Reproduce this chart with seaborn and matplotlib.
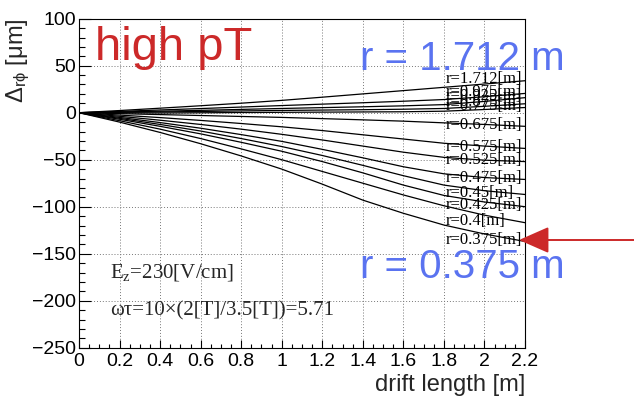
import matplotlib
matplotlib.use("Agg")
import matplotlib.pyplot as plt
from matplotlib.ticker import MultipleLocator
import pandas as pd
import seaborn as sns

# drift length sample points [m]
drift = [0.0, 0.2, 0.4, 0.6, 0.8, 1.0, 1.2, 1.4, 1.6, 1.8, 2.0, 2.2]

# r-phi distortion [um] for each radius
d_1712 = [0, 2.3, 4.8, 7.4, 10.1, 13.1, 16.5, 20.0, 23.5, 27.0, 30.5, 34.0]
d_0975 = [0, 1.4, 2.9, 4.4, 6.0, 7.6, 9.1, 10.6, 12.2, 14.0, 17.0, 20.5]
d_0925 = [0, 0.8, 1.6, 2.5, 3.5, 4.5, 5.4, 6.3, 7.3, 8.6, 12.0, 16.0]
d_0875 = [0, 0.4, 0.8, 1.3, 1.9, 2.4, 2.8, 3.2, 3.7, 4.5, 6.8, 9.5]
d_0775 = [0, -0.2, -0.3, -0.1, 0.2, 0.4, 0.6, 0.8, 1.0, 1.6, 3.4, 5.5]
d_0675 = [0, -1.0, -2.0, -3.0, -4.0, -5.0, -6.3, -7.6, -9.0, -10.8, -12.5, -14.5]
d_0575 = [0, -2.5, -5.2, -8.2, -11.5, -15.0, -19.0, -23.5, -28.0, -32.5, -35.5, -38.0]
d_0525 = [0, -3.8, -8.0, -12.5, -17.5, -23.0, -29.0, -35.5, -42.0, -47.5, -50.5, -52.0]
d_0475 = [0, -5.0, -10.5, -16.5, -23.3, -30.5, -39.0, -48.0, -57.5, -65.0, -69.0, -71.0]
d_0450 = [0, -6.0, -12.5, -19.5, -27.5, -36.0, -45.5, -56.0, -67.0, -77.0, -83.0, -87.0]
d_0425 = [0, -7.0, -14.5, -22.5, -31.5, -41.0, -52.0, -64.0, -77.0, -88.0, -95.0, -100.0]
d_0400 = [0, -8.5, -17.5, -27.5, -38.5, -50.0, -62.5, -75.0, -87.5, -99.0, -109.0, -117.0]
d_0375 = [0, -10.0, -21.0, -33.0, -46.0, -60.0, -76.0, -93.0, -107.0, -119.5, -129.0, -137.0]

radius_labels = ["r=1.712[m]", "r=0.975[m]", "r=0.925[m]", "r=0.875[m]",
                 "r=0.775[m]", "r=0.675[m]", "r=0.575[m]", "r=0.525[m]",
                 "r=0.475[m]", "r=0.45[m]", "r=0.425[m]", "r=0.4[m]",
                 "r=0.375[m]"]
curves = [d_1712, d_0975, d_0925, d_0875, d_0775, d_0675, d_0575,
          d_0525, d_0475, d_0450, d_0425, d_0400, d_0375]

x_ticks = [0, 0.2, 0.4, 0.6, 0.8, 1, 1.2, 1.4, 1.6, 1.8, 2, 2.2]
x_tick_labels = ["0", "0.2", "0.4", "0.6", "0.8", "1", "1.2", "1.4",
                 "1.6", "1.8", "2", "2.2"]
y_ticks = [-250, -200, -150, -100, -50, 0, 50, 100]

frames = []
for lab, vals in zip(radius_labels, curves):
    frames.append(pd.DataFrame({"drift": drift, "delta": vals, "r": lab}))
df = pd.concat(frames, ignore_index=True)

sns.set_style("white")
plt.rcParams["font.family"] = ["Liberation Sans", "DejaVu Sans"]
plt.rcParams["mathtext.fontset"] = "custom"
plt.rcParams["mathtext.rm"] = "Liberation Serif"
plt.rcParams["mathtext.it"] = "Liberation Serif:italic"
plt.rcParams["mathtext.sf"] = "Liberation Sans"

W, H = 634, 403
fig = plt.figure(figsize=(W / 100, H / 100), dpi=100)
ax = fig.add_axes([79 / W, 1 - 347.7 / H, (525 - 79) / W, (347.7 - 18.7) / H])

sns.lineplot(data=df, x="drift", y="delta", hue="r",
             palette=["black"] * len(radius_labels), estimator=None,
             sort=False, legend=False, lw=0.9, ax=ax)

ax.set_xlim(0, 2.2)
ax.set_ylim(-250, 100)
ax.set_xticks(x_ticks)
ax.set_xticklabels(x_tick_labels)
ax.set_yticks(y_ticks)
ax.xaxis.set_minor_locator(MultipleLocator(0.05))
ax.yaxis.set_minor_locator(MultipleLocator(10))
ax.tick_params(axis="both", which="both", direction="in", bottom=True,
               left=True, top=False, right=False, labelsize=14,
               colors="black", width=0.8)
ax.tick_params(axis="x", which="major", length=6, pad=4)
ax.tick_params(axis="x", which="minor", length=3)
ax.tick_params(axis="y", which="major", length=8.5, pad=2)
ax.tick_params(axis="y", which="minor", length=4.5)
ax.grid(True, which="major", color="#777777", linestyle=(0, (1, 2)), lw=0.7)
for s in ax.spines.values():
    s.set_color("black")
    s.set_linewidth(0.8)

ax.set_xlabel("drift length [m]", fontsize=17, loc="right")
ax.xaxis.set_label_coords(1.0, -0.08)
ax.set_ylabel(r"$\mathsf{\Delta_{r\phi}}$ [μm]", fontsize=17, loc="top")
ax.yaxis.set_label_coords(-0.105, 1.0)

# radius tags at the end of each curve
for lab, vals in zip(radius_labels, curves):
    ax.text(1.81, vals[-1] + 1.5, lab, fontsize=12, family="Liberation Serif",
            va="center", ha="left", color="black", clip_on=False)

ax.text(0.155, -170, r"E$_{\mathrm{z}}$=230[V/cm]", fontsize=15,
        family="Liberation Serif", va="center", ha="left")
ax.text(0.155, -211, "ωτ=10×(2[T]/3.5[T])=5.71", fontsize=15,
        family="Liberation Serif", va="center", ha="left")

red = "#cc2929"
blue = "#5a73f0"
fig.text(95 / W, 1 - 60 / H, "high pT", fontsize=34, color=red,
         va="baseline", ha="left")
fig.text(360 / W, 1 - 70 / H, "r = 1.712 m", fontsize=29, color=blue,
         va="baseline", ha="left")
fig.text(360 / W, 1 - 278 / H, "r = 0.375 m", fontsize=29, color=blue,
         va="baseline", ha="left")

ax.annotate("", xy=(519, H - 240), xycoords="figure pixels",
            xytext=(634, H - 240), textcoords="figure pixels",
            arrowprops=dict(arrowstyle="-|>,head_length=1.25,head_width=0.55",
                            mutation_scale=15, color=red, lw=1.4,
                            shrinkA=0, shrinkB=0),
            annotation_clip=False)

fig.savefig("out.png", dpi=100)
